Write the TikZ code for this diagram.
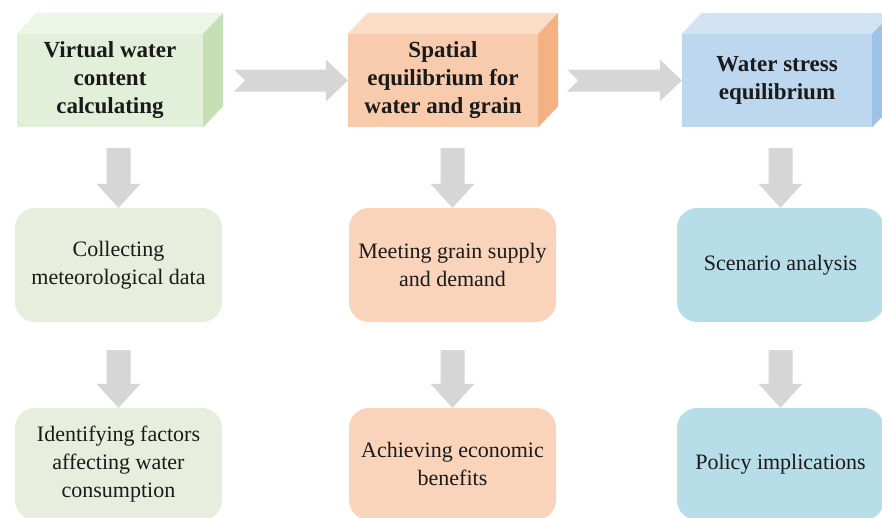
\documentclass[tikz,border=0pt]{standalone}
\usepackage{fontspec}
\setmainfont{Liberation Serif}
\usetikzlibrary{calc}

% palette
\definecolor{greenfront}{HTML}{E2F0D9}
\definecolor{greentop}{HTML}{ECF5E6}
\definecolor{greenside}{HTML}{C5E0B4}
\definecolor{greenbox}{HTML}{E8EEDD}
\definecolor{orangefront}{HTML}{F8CBAD}
\definecolor{orangetop}{HTML}{FBDCC7}
\definecolor{orangeside}{HTML}{F4B183}
\definecolor{orangebox}{HTML}{F9D3BA}
\definecolor{bluefront}{HTML}{BDD7EE}
\definecolor{bluetop}{HTML}{D2E4F4}
\definecolor{blueside}{HTML}{9DC3E6}
\definecolor{bluebox}{HTML}{B7DDE8}
\definecolor{arrowgrey}{HTML}{D6D6D6}
\definecolor{textdark}{HTML}{1A1A1A}

\tikzset{
  frontface/.style={minimum width=#1, minimum height=93pt, inner sep=0pt,
    align=center, text=textdark, font=\fontsize{23}{28}\selectfont\bfseries},
  stagebox/.style={minimum width=207pt, minimum height=#1, inner sep=0pt,
    rounded corners=20pt, align=center, text=textdark,
    font=\fontsize{22}{28}\selectfont},
  arrowfill/.style={fill=arrowgrey, draw=none}
}

% top and right faces of a cuboid whose front face is node #1
\newcommand\cubefaces[3]{%
  \fill[#2] (#1.north west) -- ++(20,-21) -- ($(#1.north east)+(20,-21)$) -- (#1.north east) -- cycle;
  \fill[#3] (#1.north east) -- ++(20,-21) -- ($(#1.south east)+(20,-21)$) -- (#1.south east) -- cycle;
}
% block arrow pointing right, notched tail at #1, tip at #2
\newcommand\blockarrowH[2]{%
  \fill[arrowfill] ($(#1)+(0,-11)$) -- ($(#2)+(-22,-11)$) -- ($(#2)+(-22,-21)$) -- (#2)
    -- ($(#2)+(-22,21)$) -- ($(#2)+(-22,11)$) -- ($(#1)+(0,11)$) -- ($(#1)+(11,0)$) -- cycle;
}
% block arrow pointing down, flat tail at #1, tip at #2
\newcommand\blockarrowV[2]{%
  \fill[arrowfill] ($(#1)+(-12,0)$) -- ($(#2)+(-12,-24)$) -- ($(#2)+(-22,-24)$) -- (#2)
    -- ($(#2)+(22,-24)$) -- ($(#2)+(12,-24)$) -- ($(#1)+(12,0)$) -- cycle;
}

\begin{document}
\begin{tikzpicture}[x=1pt, y=-1pt]
  \useasboundingbox (0,0) rectangle (882,517);
  \fill[white] (0,0) rectangle (882,517);
  \clip (0,0) rectangle (882,517);

  % stage headers (cuboids)
  \node[frontface=186pt, fill=greenfront] (v1) at (110,80.5)
    {Virtual water\\content\\calculating};
  \node[frontface=190pt, fill=orangefront] (v2) at (443,80.5)
    {Spatial\\equilibrium for\\water and grain};
  \node[frontface=190pt, fill=bluefront] (v3) at (777,80.5)
    {Water stress\\equilibrium};
  \cubefaces{v1}{greentop}{greenside}
  \cubefaces{v2}{orangetop}{orangeside}
  \cubefaces{v3}{bluetop}{blueside}

  % second row
  \node[stagebox=114pt, fill=greenbox] (m1) at (118.5,265)
    {Collecting\\meteorological data};
  \node[stagebox=114pt, fill=orangebox] (m2) at (452.5,265)
    {Meeting grain supply\\and demand};
  \node[stagebox=114pt, fill=bluebox] (m3) at (780.5,265)
    {Scenario analysis};

  % third row
  \node[stagebox=112pt, fill=greenbox] (b1) at (118.5,464)
    {Identifying factors\\affecting water\\consumption};
  \node[stagebox=112pt, fill=orangebox] (b2) at (452.5,464)
    {Achieving economic\\benefits};
  \node[stagebox=112pt, fill=bluebox] (b3) at (780.5,464)
    {Policy implications};

  % horizontal connectors between stages
  \coordinate (h1) at ($(v1.east)+(31,0)$);
  \coordinate (h2) at ($(v2.east)+(29,0)$);
  \blockarrowH{h1}{v2.west}
  \blockarrowH{h2}{v3.west}

  % vertical connectors
  \foreach \c in {1,2,3} {
    \coordinate (a\c) at ($(v\c.south -| m\c.north)+(0,21)$);
    \coordinate (d\c) at ($(m\c.south -| b\c.north)+(0,28)$);
    \blockarrowV{a\c}{m\c.north}
    \blockarrowV{d\c}{b\c.north}
  }
\end{tikzpicture}
\end{document}
